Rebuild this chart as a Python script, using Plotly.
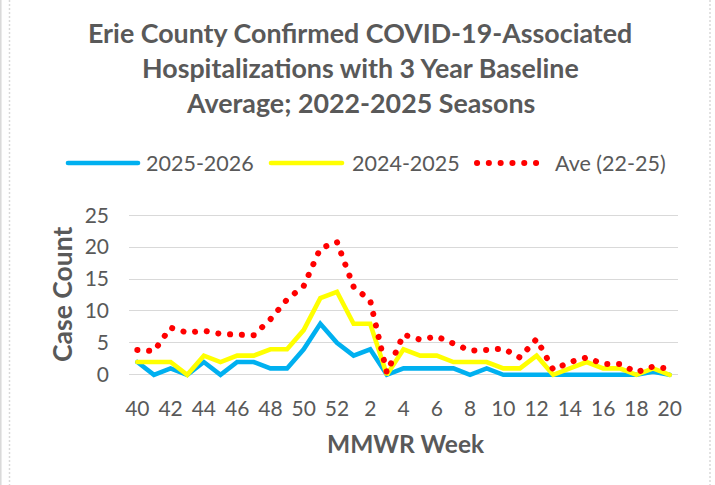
import plotly.graph_objects as go

weeks = [str(w) for w in list(range(40, 53)) + list(range(1, 21))]
season_2025_2026 = [2, 0, 1, 0, 2, 0, 2, 2, 1, 1, 4, 8, 5, 3, 4, 0, 1, 1, 1, 1, 0, 1, 0, 0, 0, 0, 0, 0, 0, 0, 0, 0.5, 0]
season_2024_2025 = [2, 2, 2, 0, 3, 2, 3, 3, 4, 4, 7, 12, 13, 8, 8, 0, 4, 3, 3, 2, 2, 2, 1, 1, 3, 0, 1, 2, 1, 1, 0, 1, 0]
average_22_25 = [3.9, 3.7, 7.4, 6.6, 6.9, 6.4, 6.3, 6.2, 8.7, 11.8, 13.9, 19.8, 20.8, 13.8, 11.6, 0.3,
                 6.3, 5.5, 6.0, 5.0, 3.8, 3.9, 4.1, 2.7, 5.6, 0.8, 2.0, 2.7, 1.7, 1.7, 0.4, 1.3, 0.9]
tick_labels = weeks[::2]
y_ticks = [0, 5, 10, 15, 20, 25]

series_names = ["2025-2026", "2024-2025", "Ave (22-25)"]
BLUE = "#00B0F0"
YELLOW = "#FFFF00"
RED = "#FF0000"
GREY = "#595959"
FONT = "Lato"

fig = go.Figure()
fig.add_trace(go.Scatter(x=weeks, y=season_2025_2026, mode="lines", name=series_names[0],
                         line=dict(color=BLUE, width=4.6)))
fig.add_trace(go.Scatter(x=weeks, y=season_2024_2025, mode="lines", name=series_names[1],
                         line=dict(color=YELLOW, width=4.6)))
fig.add_trace(go.Scatter(x=weeks, y=average_22_25, mode="lines", name=series_names[2],
                         line=dict(color=RED, width=6, dash="1px,11px")))

L, R, T, B = 129, 37, 212, 107
W, H = 715, 485
pw, ph = W - L - R, H - T - B


def px(xp):
    return (xp - L) / pw


def py(yp):
    return (H - B - yp) / ph


shapes = []
annotations = []
# manual legend
leg_y = py(163)
leg = [(68, 138, 144, BLUE, "solid", 4.6), (271, 342, 350, YELLOW, "solid", 4.6),
       (477, 538, 553, RED, "1px,11px", 6)]
for (x0, x1, tx, col, dash, wdt), name in zip(leg, series_names):
    shapes.append(dict(type="line", xref="paper", yref="paper", x0=px(x0), x1=px(x1), y0=leg_y, y1=leg_y,
                       line=dict(color=col, width=wdt, dash=dash)))
    annotations.append(dict(text=name, xref="paper", yref="paper", x=px(tx), y=leg_y, xanchor="left",
                            yanchor="middle", showarrow=False, font=dict(family=FONT, size=21.5, color=GREY)))

# frame lines
for xx, dash in [(0.8, "solid"), (9.5, "2px,2px"), (710, "2px,2px")]:
    shapes.append(dict(type="line", xref="paper", yref="paper", x0=px(xx), x1=px(xx), y0=py(0), y1=py(485),
                       line=dict(color="#D9D9D9", width=1.5, dash=dash)))

# title lines
title_lines = ["Erie County Confirmed COVID-19-Associated", "Hospitalizations with 3 Year Baseline",
               "Average; 2022-2025 Seasons"]
for line, yc in zip(title_lines, [33, 68, 103]):
    annotations.append(dict(text="<b>%s</b>" % line, xref="paper", yref="paper", x=px(360), y=py(yc),
                            xanchor="center", yanchor="middle", showarrow=False,
                            font=dict(family=FONT, size=26.8, color=GREY)))

annotations.append(dict(text="<b>Case Count</b>", xref="paper", yref="paper", x=px(62), y=py(295),
                        textangle=-90, xanchor="center", yanchor="middle", showarrow=False,
                        font=dict(family=FONT, size=26.5, color=GREY)))
annotations.append(dict(text="<b>MMWR Week</b>", xref="paper", yref="paper", x=px(406), y=py(443),
                        xanchor="center", yanchor="middle", showarrow=False,
                        font=dict(family=FONT, size=24.5, color=GREY)))

fig.update_layout(
    width=W, height=H,
    margin=dict(l=L, r=R, t=T, b=B, pad=0),
    paper_bgcolor="white", plot_bgcolor="white",
    showlegend=False,
    shapes=shapes, annotations=annotations,
    font=dict(family=FONT, color=GREY),
)
fig.update_xaxes(type="category", range=[-0.5, len(weeks) - 0.5], tickmode="array", tickvals=tick_labels,
                 ticktext=tick_labels, showgrid=False, zeroline=False, showline=False, ticks="",
                 ticklabelstandoff=16, tickfont=dict(family=FONT, size=21, color=GREY))
fig.update_yaxes(range=[-0.5, 25.5], tickvals=y_ticks, showgrid=True, gridcolor="#D9D9D9", gridwidth=1.3,
                 zeroline=False, showline=False, ticks="", ticklabelstandoff=19,
                 tickfont=dict(family=FONT, size=21, color=GREY))

post = """
(function(){
  document.body.style.margin = '0';
  document.body.style.padding = '0';
  document.documentElement.style.margin = '0';
  function fix(){
    document.querySelectorAll('path').forEach(function(p){
      var s = (p.style.stroke || '').replace(/\\s/g,'');
      if (s === 'rgb(255,0,0)' || s === '#ff0000') {
        p.style.strokeLinecap = 'round';
        p.style.strokeDasharray = '0.1px, 11.7px';
      }
      if (s === 'rgb(0,176,240)' || s === 'rgb(255,255,0)') {
        p.style.strokeLinecap = 'round';
      }
    });
  }
  fix();
  setTimeout(fix, 50);
  setTimeout(fix, 300);
  var gd = document.getElementById('{plot_id}');
  if (gd && gd.on) gd.on('plotly_afterplot', fix);
})();
"""
fig.write_html("out.html", post_script=post, config={"displayModeBar": False})
